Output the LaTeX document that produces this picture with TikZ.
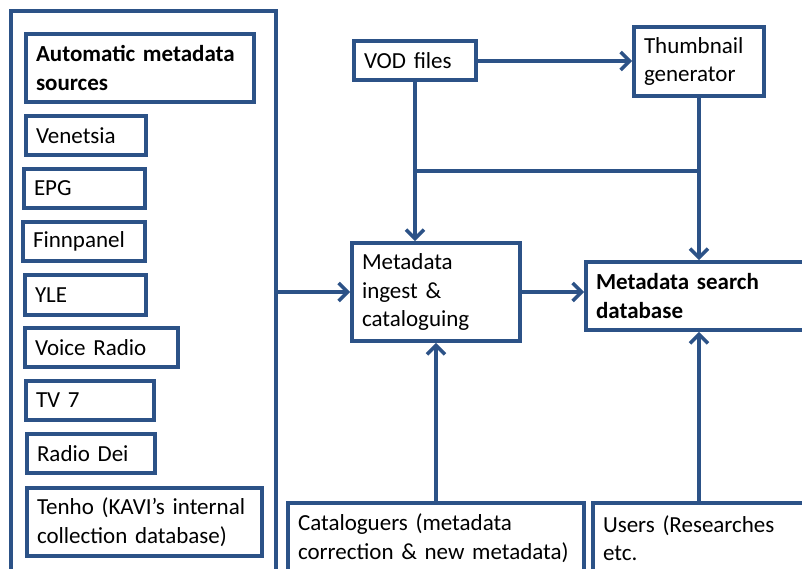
\documentclass[tikz,border=0pt]{standalone}
\usepackage{fontspec}
\setmainfont{Carlito}
\usetikzlibrary{arrows.meta}
\definecolor{blu}{HTML}{2C5287}
\tikzset{
  box/.style={draw=blu, line width=3.6pt, fill=white, inner xsep=10pt, inner ysep=0pt,
    align=left, font=\fontsize{23}{28.5}\selectfont},
  sz/.style 2 args={minimum width=#1pt, minimum height=#2pt, text width=#1pt-20pt},
  conn/.style={draw=blu, line width=3.6pt},
  arr/.style={conn, -{Straight Barb[length=9pt,width=18pt]}}
}
\begin{document}
\begin{tikzpicture}[x=1pt,y=-1pt]
\useasboundingbox (0,0) rectangle (802,569);
\clip (0,0) rectangle (802,569);
% source column
\node[box, sz={265}{579}] (src) at (143.5,300.5) {};
\node[box, sz={228}{68}] (auto) at (140,68) {\mbox{\bfseries Automatic metadata}\\\mbox{\bfseries sources}};
\node[box, sz={120}{39}] (ven) at (86,135.5) {\mbox{Venetsia}};
\node[box, sz={121}{39}] (epg) at (84.5,188.5) {\mbox{EPG}};
\node[box, sz={122}{39}] (finn) at (84,241.5) {\mbox{Finnpanel}};
\node[box, sz={121}{40}] (yle) at (85.5,295) {\mbox{YLE}};
\node[box, sz={153}{39}] (voice) at (101.5,347.5) {\mbox{Voice Radio}};
\node[box, sz={128}{39}] (tv) at (90,400.5) {\mbox{TV 7}};
\node[box, sz={128}{39}] (dei) at (91,453.5) {\mbox{Radio Dei}};
\node[box, sz={235}{68}] (tenho) at (144.5,522) {\mbox{Tenho (KAVI’s internal}\\\mbox{collection database)}};
% right part
\node[box, sz={122}{39}] (vod) at (415,60.5) {\mbox{VOD files}};
\node[box, sz={130}{69}] (thumb) at (699,61.5) {\mbox{Thumbnail}\\\mbox{generator}};
\node[box, sz={168}{98}] (ingest) at (436,292) {\mbox{Metadata}\\\mbox{ingest \&}\\\mbox{cataloguing}};
\node[box, sz={254}{68}] (search) at (713,296) {\mbox{\bfseries Metadata search}\\\mbox{\bfseries database}};
\node[box, sz={296}{70}] (cat) at (436,538) {\mbox{Cataloguers (metadata}\\\mbox{correction \& new metadata)}};
\node[box, sz={247}{70}] (users) at (716.5,538) {\mbox{Users (Researches}\\\mbox{etc.}};
\coordinate (jn) at (416,171);
% connectors
\draw[arr] (ingest.west -| src.east) -- (ingest.west);
\draw[arr] (ingest.east) -- (ingest.east -| search.west);
\draw[arr] (vod.east |- 0,61) -- (thumb.west |- 0,61);
\draw[arr] (vod.south) -- (vod.south |- ingest.north);
\draw[arr] (thumb.south) -- (thumb.south |- search.north);
\draw[conn] (vod.south |- jn) -- (thumb.south |- jn);
\draw[arr] (cat.north) -- (cat.north |- ingest.south);
\draw[arr] (thumb.south |- users.north) -- (thumb.south |- search.south);
\end{tikzpicture}
\end{document}
